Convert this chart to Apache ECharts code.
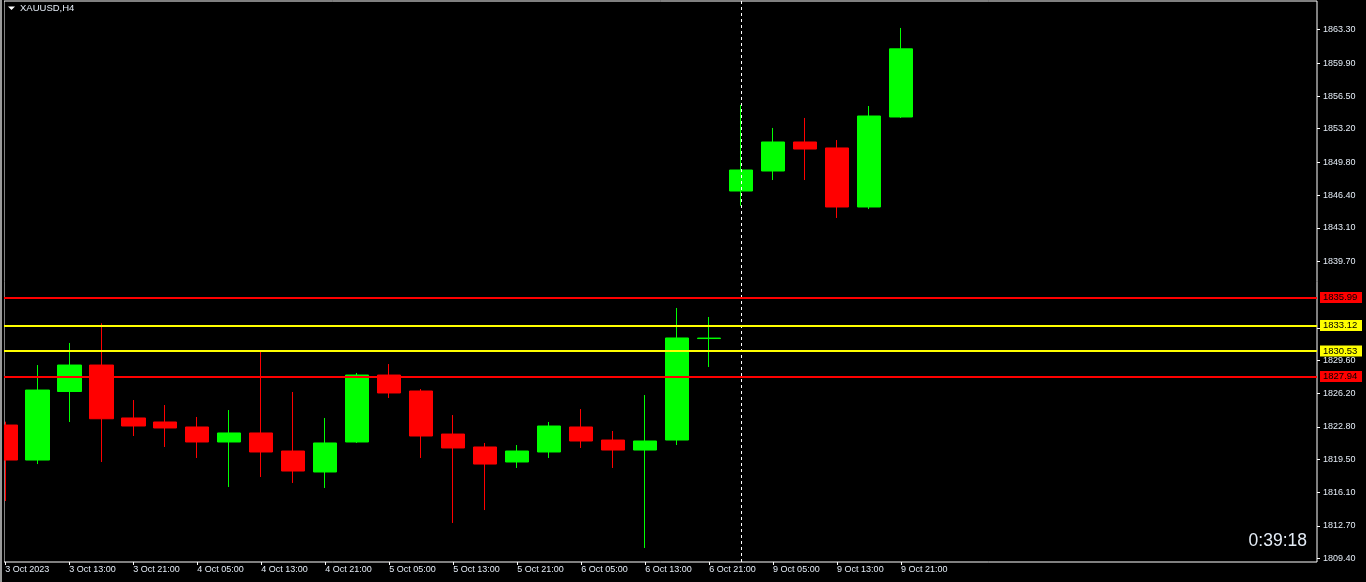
<!DOCTYPE html>
<html>
<head>
<meta charset="utf-8">
<script src="https://cdn.jsdelivr.net/npm/echarts@6/dist/echarts.min.js"></script>
<style>
html,body{margin:0;padding:0;background:#000;}
#c{width:1366px;height:582px;}
</style>
</head>
<body>
<div id="c"></div>
<script>
// ---- data ----
const symbolTitle = 'XAUUSD,H4';
const timer = '0:39:18';
const barTimes = ['3 Oct 05:00','3 Oct 09:00','3 Oct 13:00','3 Oct 17:00','3 Oct 21:00',
  '4 Oct 01:00','4 Oct 05:00','4 Oct 09:00','4 Oct 13:00','4 Oct 17:00','4 Oct 21:00',
  '5 Oct 01:00','5 Oct 05:00','5 Oct 09:00','5 Oct 13:00','5 Oct 17:00','5 Oct 21:00',
  '6 Oct 01:00','6 Oct 05:00','6 Oct 09:00','6 Oct 13:00','6 Oct 17:00','6 Oct 21:00',
  '9 Oct 01:00','9 Oct 05:00','9 Oct 09:00','9 Oct 13:00','9 Oct 17:00','9 Oct 21:00'];
const opens  = [1822.98,1819.41,1826.40,1829.10,1823.70,1823.29,1822.78,1821.25,1822.17,1820.33,1818.19,1821.25,1828.08,1826.45,1822.06,1820.74,1819.21,1820.23,1822.78,1821.45,1820.43,1821.45,1831.80,1846.85,1848.89,1851.85,1851.24,1845.22,1854.40];
const closes = [1819.41,1826.55,1829.10,1823.62,1822.88,1822.68,1821.25,1822.17,1820.23,1818.29,1821.15,1828.08,1826.25,1821.86,1820.64,1819.00,1820.33,1822.88,1821.35,1820.43,1821.35,1831.86,1831.85,1848.99,1851.85,1851.13,1845.22,1854.50,1861.35];
const lows   = [1815.23,1819.00,1823.29,1819.21,1821.86,1820.74,1819.62,1816.66,1817.68,1817.07,1816.56,1821.15,1825.74,1819.62,1812.99,1814.31,1818.60,1819.62,1820.64,1818.60,1810.44,1820.94,1828.90,1845.35,1847.97,1847.97,1844.10,1845.01,1854.30];
const highs  = [1823.32,1829.10,1831.35,1833.36,1825.53,1825.02,1823.80,1824.51,1830.53,1826.35,1823.70,1828.29,1829.20,1826.65,1824.00,1821.15,1820.94,1823.29,1824.61,1822.37,1826.04,1834.92,1834.00,1855.62,1853.28,1854.30,1852.05,1855.52,1863.48];
const xTickIndex  = [0,2,4,6,8,10,12,14,16,18,20,22,24,26,28];
const xTickLabels = ['3 Oct 2023','3 Oct 13:00','3 Oct 21:00','4 Oct 05:00','4 Oct 13:00','4 Oct 21:00','5 Oct 05:00','5 Oct 13:00','5 Oct 21:00','6 Oct 05:00','6 Oct 13:00','6 Oct 21:00','9 Oct 05:00','9 Oct 13:00','9 Oct 21:00'];
const yTicks = [1809.40,1812.70,1816.10,1819.50,1822.80,1826.20,1829.60,1832.90,1839.70,1843.10,1846.40,1849.80,1853.20,1856.50,1859.90,1863.30];
const redLevels = [1835.99, 1827.94];
const yellowLevels = [1833.12, 1830.53];
const separatorBar = 23;

// ---- build ----
const candleData = opens.map((o, i) => [i, o, closes[i], lows[i], highs[i]]);
const txt = '#e4ecf6';
const font = 'Liberation Sans';
function levelLine(v, col) {
  return {
    yAxis: v,
    lineStyle: {color: col, width: 2, type: 'solid'},
    label: {show: true, position: 'end', distance: 3, formatter: v.toFixed(2),
      color: '#000', backgroundColor: col, fontFamily: font, fontSize: 9.5, padding: [1, 3, 0, 3], width: 36}
  };
}
const lastClose = closes[closes.length - 1];
const markData = [];
redLevels.forEach(v => markData.push(levelLine(v, '#ff0000')));
yellowLevels.forEach(v => markData.push(levelLine(v, '#ffff00')));
markData.push({
  yAxis: lastClose,
  lineStyle: {opacity: 0},
  label: {show: true, position: 'end', distance: 3, formatter: lastClose.toFixed(2),
    color: '#000', backgroundColor: '#ffffff', fontFamily: font, fontSize: 9.5, padding: [1, 3, 0, 3], width: 36}
});

const chart = echarts.init(document.getElementById('c'), null, {renderer: 'canvas'});
chart.setOption({
  backgroundColor: '#000',
  animation: false,
  title: {text: symbolTitle, left: 20, top: 3, padding: 0, textStyle: {color: txt, fontFamily: font, fontSize: 9.5, fontWeight: 'normal'}},
  graphic: [
    {type: 'rect', shape: {x: 0, y: 0, width: 2, height: 582}, style: {fill: '#9a9a9a'}, z: 100},
    {type: 'rect', shape: {x: 2, y: 0, width: 2, height: 582}, style: {fill: '#000'}, z: 100},
    {type: 'polygon', shape: {points: [[8, 6.5], [15, 6.5], [11.5, 10]]}, style: {fill: '#ffffff'}, z: 100},
    {type: 'text', right: 59, top: 532, style: {text: timer, fill: txt, font: '17.5px "Liberation Sans"'}, z: 100}
  ],
  grid: {left: 4, right: 49, top: 1, bottom: 20, show: true, borderColor: '#ffffff', borderWidth: 1, backgroundColor: '#000'},
  xAxis: {
    type: 'value', min: -0.04, max: 41.0,
    axisLine: {show: false, onZero: false},
    splitLine: {show: false},
    axisTick: {show: true, length: 3, customValues: xTickIndex, lineStyle: {color: '#ffffff'}},
    axisLabel: {show: true, customValues: xTickIndex, align: 'left', margin: 3,
      color: txt, fontFamily: font, fontSize: 9,
      formatter: v => xTickLabels[xTickIndex.indexOf(Math.round(v))] || ''}
  },
  yAxis: {
    type: 'value', position: 'right', min: 1809.01, max: 1866.23, scale: true,
    axisLine: {show: false, onZero: false},
    splitLine: {show: false},
    axisTick: {show: true, length: 3, customValues: yTicks, lineStyle: {color: '#ffffff'}},
    axisLabel: {show: true, customValues: yTicks, margin: 6, color: txt, fontFamily: font, fontSize: 9,
      formatter: v => v.toFixed(2)}
  },
  series: [
    {
      type: 'line', data: [], z: 1, silent: true,
      markLine: {silent: true, symbol: 'none', animation: false,
        data: [{xAxis: separatorBar, lineStyle: {color: '#ffffff', width: 1, type: [3, 3]}, label: {show: false}}]}
    },
    {
      type: 'candlestick', z: 2,
      encode: {x: 0, y: [1, 2, 3, 4]},
      data: candleData,
      barWidth: 24,
      clip: true,
      itemStyle: {color: '#00ff00', color0: '#ff0000', borderColor: '#00ff00', borderColor0: '#ff0000', borderColorDoji: '#00ff00', borderWidth: 1},
      markLine: {silent: true, symbol: 'none', animation: false, data: markData}
    }
  ]
});
</script>
</body>
</html>
